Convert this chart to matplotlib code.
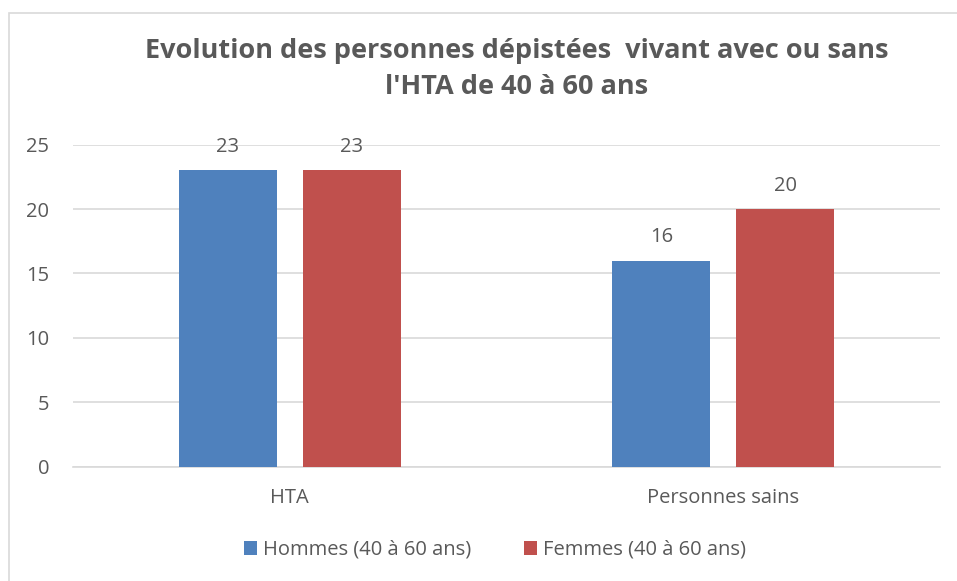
import matplotlib
matplotlib.use("Agg")
import matplotlib.pyplot as plt
from matplotlib.patches import Rectangle
import numpy as np

categories = ["HTA", "Personnes sains"]
hommes = [23, 16]
femmes = [23, 20]
series_labels = ["Hommes (40 à 60 ans)", "Femmes (40 à 60 ans)"]
title = "Evolution des personnes dépistées  vivant avec ou sans\nl'HTA de 40 à 60 ans"
yticks = [0, 5, 10, 15, 20, 25]

plt.rcParams['font.family'] = ['Open Sans', 'DejaVu Sans']
TXT = '#595959'
BLUE = '#4F81BD'
RED = '#C0504D'
FS = 14.5

W, H = 957, 581
fig = plt.figure(figsize=(W/100, H/100), dpi=100)
fig.patches.append(Rectangle((9/W, -0.1), 1.2, 1 - 13/H + 0.1, transform=fig.transFigure,
                             fill=False, edgecolor='#D9D9D9', linewidth=1.2))

ax = fig.add_axes([73/W, 1 - 466.7/H, (940-73)/W, (466.7-144.7)/H])
x = np.arange(len(categories))
bw = 0.226
off = 0.1425
b1 = ax.bar(x - off, hommes, bw, color=BLUE, label=series_labels[0], zorder=3)
b2 = ax.bar(x + off, femmes, bw, color=RED, label=series_labels[1], zorder=3)
for bars in (b1, b2):
    for r in bars:
        ax.annotate(f"{int(r.get_height())}", (r.get_x() + r.get_width()/2, r.get_height()),
                    xytext=(0, 9.5), textcoords='offset points', ha='center', va='bottom',
                    fontsize=FS, color=TXT, zorder=4)

ax.set_xlim(-0.5, 1.5)
ax.set_ylim(0, 25)
ax.set_yticks(yticks)
ax.set_xticks(x)
ax.set_xticklabels(categories)
ax.yaxis.grid(True, color='#D9D9D9', linewidth=1.2, zorder=0)
for s in ['top', 'right', 'left']:
    ax.spines[s].set_visible(False)
ax.spines['bottom'].set_color('#D9D9D9')
ax.spines['bottom'].set_linewidth(1.2)
ax.tick_params(axis='both', length=0, colors=TXT, labelsize=FS)
ax.tick_params(axis='y', pad=17)
ax.tick_params(axis='x', pad=15)

fig.text(517/W, 1 - 69.5/H, title, ha='center', va='center', fontsize=19.5, fontweight='bold',
         color=TXT, linespacing=1.5)

fig.legend(handles=[b1, b2], labels=series_labels, loc='center', bbox_to_anchor=(495/W, 1 - 550/H),
           ncol=2, frameon=False, fontsize=FS, labelcolor=TXT, handlelength=0.65, handleheight=0.65,
           handletextpad=0.3, columnspacing=2.6)

fig.savefig("out.png", dpi=100)
